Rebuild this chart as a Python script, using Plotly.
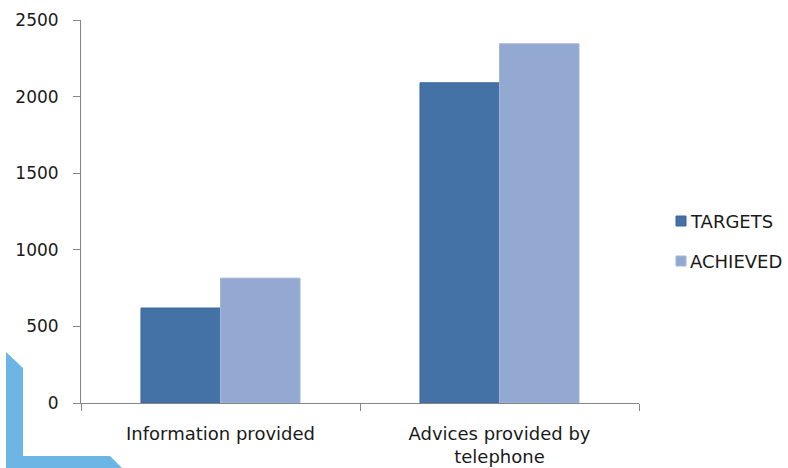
import plotly.graph_objects as go

categories = ["Information provided", "Advices provided by<br>telephone"]
targets = [620, 2090]
achieved = [815, 2345]
y_ticks = [0, 500, 1000, 1500, 2000, 2500]
series_names = ["TARGETS", "ACHIEVED"]
series_colors = ["#4472A6", "#94A9D1"]
series_edges = ["#3B659A", "#A3B6DA"]

W, H = 788, 468
ML, MR, MT, MB = 81, 149, 20, 65
PW, PH = W - ML - MR, H - MT - MB


def to_paper(px, py):
    return (px - ML) / PW, (H - MB - py) / PH


# light-blue corner bracket in the lower-left
corner_px = [(6, 352), (23, 368), (23, 456), (110, 456), (122, 468), (6, 468)]
pts = [to_paper(x, y) for x, y in corner_px]
path = "M " + " L ".join(f"{x:.4f},{y:.4f}" for x, y in pts) + " Z"

fig = go.Figure()
for name, vals, col, edge in zip(series_names, [targets, achieved], series_colors, series_edges):
    fig.add_trace(go.Bar(
        name=name, x=categories, y=vals, showlegend=False,
        marker=dict(color=col, line=dict(color=edge, width=1)),
    ))

shapes = [dict(type="path", path=path, xref="paper", yref="paper",
               fillcolor="#6DB5E5", line=dict(width=0), layer="below")]
annotations = []

# legend: small square swatches with labels to the right of the plot
legend_rows_y = [221, 261]
for name, col, edge, ly in zip(series_names, series_colors, series_edges, legend_rows_y):
    x0, y0 = to_paper(676, ly + 5)
    x1, y1 = to_paper(686, ly - 5)
    shapes.append(dict(type="rect", xref="paper", yref="paper",
                       x0=x0, x1=x1, y0=y0, y1=y1,
                       fillcolor=col, line=dict(color=edge, width=1)))
    tx, ty = to_paper(688, ly)
    annotations.append(dict(text=name, xref="paper", yref="paper", x=tx, y=ty,
                            xanchor="left", yanchor="middle", showarrow=False,
                            font=dict(size=18, color="#1a1a1a")))

fig.update_layout(
    width=W, height=H,
    margin=dict(l=ML, r=MR, t=MT, b=MB, autoexpand=False),
    paper_bgcolor="white", plot_bgcolor="white",
    barmode="group", bargap=0.43, bargroupgap=0,
    font=dict(family="DejaVu Sans", size=18, color="#1a1a1a"),
    shapes=shapes, annotations=annotations,
)
fig.update_xaxes(
    automargin=False,
    showline=True, linecolor="#868686", linewidth=1,
    ticks="outside", tickson="boundaries", ticklen=7, tickcolor="#868686",
    showgrid=False, ticklabelstandoff=14, tickfont=dict(size=18),
)
fig.update_yaxes(
    automargin=False,
    range=[0, 2500], tickvals=y_ticks,
    showline=True, linecolor="#868686", linewidth=1,
    ticks="outside", ticklen=7, tickcolor="#868686",
    showgrid=False, zeroline=False, ticklabelstandoff=11, tickfont=dict(size=17),
)

fig.write_html("out.html")
